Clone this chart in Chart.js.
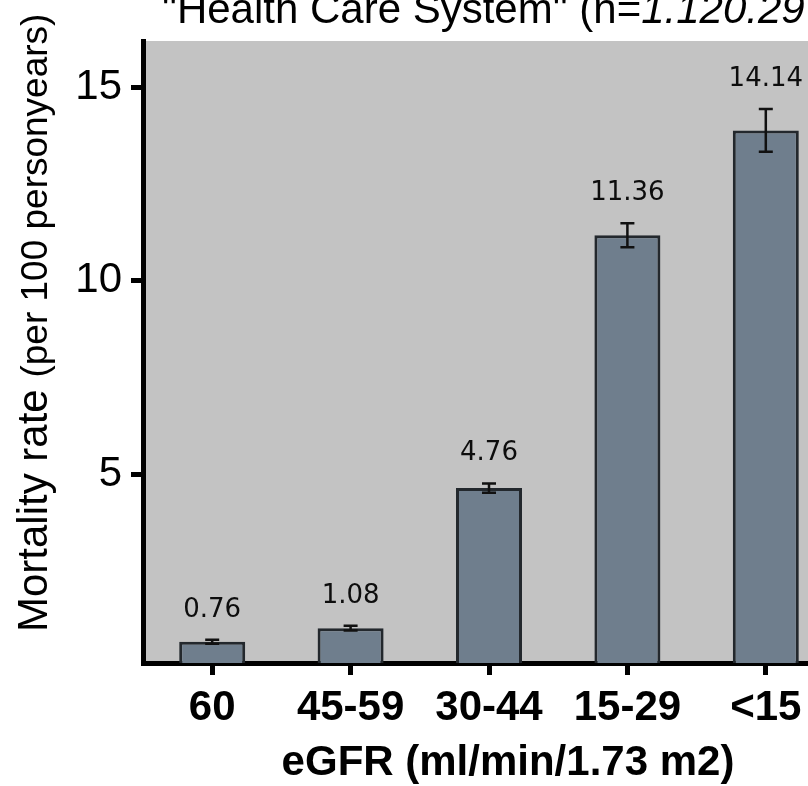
<!DOCTYPE html>
<html>
<head>
<meta charset="utf-8">
<script src="https://cdn.jsdelivr.net/npm/chart.js@4"></script>
<style>
body { margin: 0; background: #fff; }
#wrap { width: 808px; height: 786px; overflow: hidden; }
canvas { display: block; }
</style>
</head>
<body>
<div id="wrap"><canvas id="myChart" width="835" height="786"></canvas></div>
<script>
// eGFR groups and what the bars show
const groups = ["60", "45-59", "30-44", "15-29", "<15"];
const barHeights = [0.67, 1.02, 4.64, 11.17, 13.88];
const errors = [0.05, 0.06, 0.12, 0.31, 0.55];
const valueLabels = ["0.76", "1.08", "4.76", "11.36", "14.14"];
const yTicks = [5, 10, 15];

const sans = '"Liberation Sans", Arial, sans-serif';

const extras = {
    id: 'extras',
    beforeDraw(chart) {
        const ctx = chart.ctx;
        const a = chart.chartArea;
        ctx.save();
        ctx.fillStyle = '#c3c3c3';
        ctx.fillRect(a.left, a.top, chart.width - a.left, a.bottom - a.top);
        ctx.restore();
    },
    afterDatasetsDraw(chart) {
        const ctx = chart.ctx;
        const y = chart.scales.y;
        const bars = chart.getDatasetMeta(0).data;
        ctx.save();
        ctx.strokeStyle = '#111';
        ctx.lineWidth = 2.5;
        bars.forEach((bar, i) => {
            const top = y.getPixelForValue(barHeights[i] + errors[i]);
            const bot = y.getPixelForValue(barHeights[i] - errors[i]);
            ctx.beginPath();
            ctx.moveTo(bar.x, top); ctx.lineTo(bar.x, bot);
            ctx.moveTo(bar.x - 7, top); ctx.lineTo(bar.x + 7, top);
            ctx.moveTo(bar.x - 7, bot); ctx.lineTo(bar.x + 7, bot);
            ctx.stroke();

            ctx.fillStyle = '#0d0d0d';
            ctx.font = '26px "DejaVu Sans"';
            ctx.textAlign = 'center';
            ctx.textBaseline = 'middle';
            ctx.fillText(valueLabels[i], bar.x, top - 30);
        });
        ctx.restore();
    },
    afterDraw(chart) {
        const ctx = chart.ctx;
        ctx.save();
        ctx.fillStyle = '#000';
        ctx.textBaseline = 'alphabetic';

        // title, cut off at the top in the original
        ctx.textAlign = 'left';
        ctx.font = '42px ' + sans;
        const t1 = '"Health Care System" (n=';
        ctx.fillText(t1, 162, 23);
        const w1 = ctx.measureText(t1).width;
        ctx.font = 'italic 42px ' + sans;
        ctx.fillText('1.120.29', 162 + w1, 23);

        // x axis title
        ctx.textAlign = 'center';
        ctx.font = 'bold 42px ' + sans;
        ctx.fillText('eGFR (ml/min/1.73 m2)', 508, 775);

        // y axis title, two sizes
        ctx.translate(47, 632);
        ctx.rotate(-Math.PI / 2);
        ctx.textAlign = 'left';
        ctx.font = '42px ' + sans;
        const part1 = 'Mortality rate ';
        ctx.fillText(part1, 0, 0);
        const w2 = ctx.measureText(part1).width;
        ctx.font = '37px ' + sans;
        ctx.fillText('(per 100 personyears)', w2, 0);
        ctx.restore();
    }
};

const ctx = document.getElementById('myChart').getContext('2d');

const myChart = new Chart(ctx, {
    type: 'bar',
    data: {
        labels: groups,
        datasets: [{
            data: barHeights,
            backgroundColor: '#6f7e8d',
            borderColor: '#23282d',
            borderWidth: 3,
            barPercentage: 0.477,
            categoryPercentage: 1
        }]
    },
    options: {
        responsive: false,
        animation: false,
        devicePixelRatio: 1,
        layout: { padding: { top: 41, left: 0, right: 0, bottom: 0 } },
        plugins: {
            legend: { display: false },
            tooltip: { enabled: false }
        },
        scales: {
            x: {
                grid: { offset: false, drawOnChartArea: false, tickLength: 12, tickWidth: 5, tickColor: '#000' },
                border: { width: 5, color: '#000' },
                ticks: {
                    color: '#000',
                    padding: 8,
                    maxRotation: 0,
                    autoSkip: false,
                    font: { family: sans, size: 42, weight: 'bold' }
                },
                afterFit(s) { s.height = 123; }
            },
            y: {
                min: 0.12,
                max: 16.19,
                afterBuildTicks(s) { s.ticks = yTicks.map(v => ({ value: v })); },
                grid: { drawOnChartArea: false, tickLength: 12, tickWidth: 5, tickColor: '#000' },
                border: { width: 5, color: '#000' },
                ticks: {
                    color: '#000',
                    padding: 9,
                    font: { family: sans, size: 42 }
                },
                afterFit(s) { s.width = 143; }
            }
        }
    },
    plugins: [extras]
});
</script>
</body>
</html>
